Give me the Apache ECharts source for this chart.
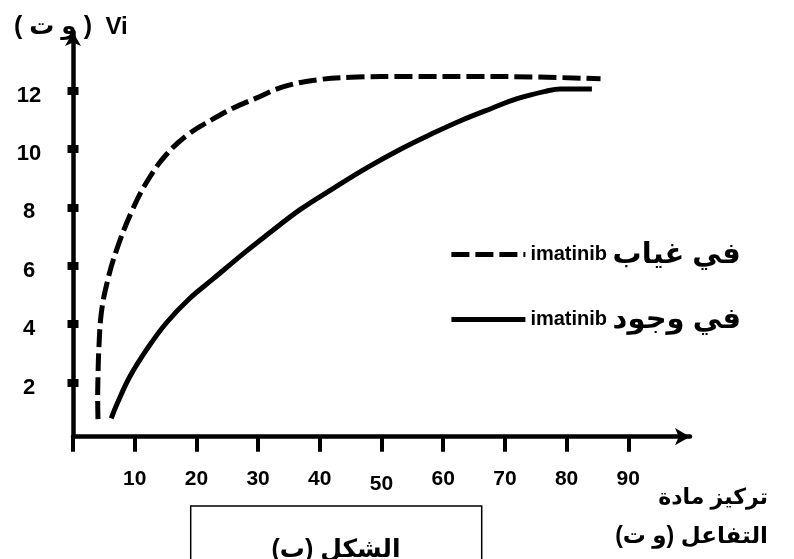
<!DOCTYPE html>
<html><head><meta charset="utf-8">
<script src="https://cdn.jsdelivr.net/npm/echarts@6/dist/echarts.min.js"></script>
<style>html,body{margin:0;padding:0;background:#fff}#c{width:794px;height:559px}</style>
</head><body><div id="c"></div>
<script>
const xTickValues = [0, 10, 20, 30, 40, 50, 60, 70, 80, 90];
const xLabelValues = [10, 20, 30, 40, 50, 60, 70, 80, 90];
const yLabelValues = [2, 4, 6, 8, 10, 12];
// في غياب imatinib (dashed)
const absenceData = [
  [4.05, 0.75], [4.0, 1.5], [4.05, 2.2], [4.2, 3.2], [4.6, 4.4], [5.5, 5.4], [7.0, 6.5],
  [9.6, 7.9], [12.2, 8.95], [15.1, 9.8], [18.7, 10.5], [22.5, 11.0], [26, 11.4],
  [29.5, 11.72], [34, 12.12], [39.5, 12.36], [45, 12.45], [55, 12.48], [65, 12.48],
  [75, 12.46], [85.5, 12.4]
];
// في وجود imatinib (solid)
const presenceData = [
  [6.2, 0.78], [7.2, 1.3], [9.2, 2.2], [11.9, 3.12], [15.15, 4.05], [18.9, 4.88],
  [22.7, 5.55], [28.1, 6.5], [31.4, 7.05], [36.8, 7.92], [42.2, 8.65], [47.6, 9.35],
  [53, 9.98], [58, 10.5], [63, 10.98], [68, 11.4], [72, 11.72], [76.8, 11.98],
  [79, 12.05], [84.1, 12.05]
];
const seriesNames = ['absence', 'presence'];
const legendLatin = 'imatinib';
const legendArabic = { absence: 'في غياب', presence: 'في وجود' };
const yTitleArabic = '( و ت )';
const yTitleLatin = 'Vi';
const xAxisTitleLine1 = 'تركيز مادة';
const xAxisTitleLine2 = 'التفاعل (و ت)\u200F';
const figureCaption = '\u200Fالشكل (ب)\u200F';

const FONT = "'Liberation Sans', 'DejaVu Sans', sans-serif";
const base = { fontWeight: 'bold', color: '#000', fontFamily: FONT };
const chart = echarts.init(document.getElementById('c'));
chart.setOption({
  animation: false,
  backgroundColor: '#fff',
  grid: { left: 73, right: 104, top: 32, bottom: 122.3 },
  legend: {
    orient: 'vertical', right: 48, top: 235, itemWidth: 74, itemHeight: 14, itemGap: 36,
    align: 'left',
    itemStyle: { opacity: 0 },
    lineStyle: { width: 5 },
    textStyle: Object.assign({ fontSize: 20 }, base, {
      rich: { en: Object.assign({ fontSize: 20 }, base), ar: Object.assign({ fontSize: 29 }, base) }
    }),
    formatter: n => '{en|' + legendLatin + '} {ar|' + legendArabic[n] + '}',
    data: seriesNames
  },
  xAxis: {
    type: 'value', min: 0, max: 100,
    axisLine: { show: true, onZero: false, symbol: ['none', 'arrow'], symbolSize: [13, 15],
      lineStyle: { color: '#000', width: 4.5 } },
    axisTick: { show: true, customValues: xTickValues, length: 15, lineStyle: { color: '#000', width: 4 } },
    axisLabel: Object.assign({ customValues: xLabelValues, margin: 32, fontSize: 21,
      formatter: v => v === 50 ? '{low|50}' : String(v),
      rich: { low: Object.assign({ fontSize: 21, padding: [5, 0, 0, 0] }, base) } }, base),
    splitLine: { show: false }
  },
  yAxis: [{
    type: 'value', min: 0.15, max: 14,
    axisLine: { show: true, onZero: false, symbol: ['none', 'arrow'], symbolSize: [12, 14],
      lineStyle: { color: '#000', width: 4.5 } },
    axisTick: { show: true, customValues: yLabelValues, length: 5.5, lineStyle: { color: '#000', width: 8 } },
    axisLabel: Object.assign({ customValues: yLabelValues, margin: 44, align: 'center', fontSize: 22,
      formatter: v => '{d|' + v + '}',
      rich: { d: Object.assign({ fontSize: 22, padding: [10, 0, 0, 0] }, base) } }, base),
    splitLine: { show: false }
  }, {
    type: 'value', min: 0.15, max: 14, position: 'left', offset: 0,
    axisLine: { show: false },
    axisTick: { show: true, inside: true, customValues: yLabelValues, length: 5.5, lineStyle: { color: '#000', width: 8 } },
    axisLabel: { show: false },
    splitLine: { show: false }
  }],
  series: [{
    name: seriesNames[0], type: 'line', data: absenceData, smooth: 0.4, symbol: 'none',
    lineStyle: { color: '#000', width: 5, type: [18, 6], cap: 'butt' }, itemStyle: { color: '#000' }
  }, {
    name: seriesNames[1], type: 'line', data: presenceData, smooth: 0.4, symbol: 'none',
    lineStyle: { color: '#000', width: 5, type: 'solid' }, itemStyle: { color: '#000' }
  }],
  graphic: [
    { type: 'text', x: 14, y: 27, z: 100, style: {
      text: '{ar|' + yTitleArabic + '}{en|  ' + yTitleLatin + '}',
      textAlign: 'left', textVerticalAlign: 'middle',
      rich: { ar: { font: "bold 25px " + FONT, fill: '#000' }, en: { font: "bold 24px " + FONT, fill: '#000' } } } },
    { type: 'rect', shape: { x: 190.7, y: 506, width: 291, height: 80 },
      style: { fill: 'none', stroke: '#000', lineWidth: 1.5 } },
    { type: 'text', x: 336, y: 550, style: { text: figureCaption, font: "bold 25px " + FONT, fill: '#000',
      textAlign: 'center', textVerticalAlign: 'middle' } },
    { type: 'text', x: 768, y: 498, style: { text: xAxisTitleLine1, font: "bold 22px " + FONT, fill: '#000',
      textAlign: 'right', textVerticalAlign: 'middle' } },
    { type: 'text', x: 768, y: 537, style: { text: xAxisTitleLine2, font: "bold 23px " + FONT, fill: '#000',
      textAlign: 'right', textVerticalAlign: 'middle' } }
  ]
});
</script></body></html>
